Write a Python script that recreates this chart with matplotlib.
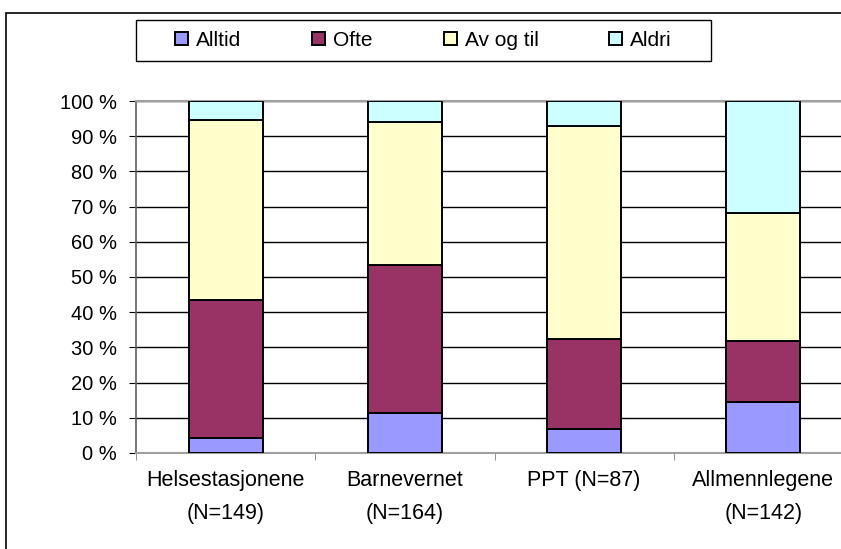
import matplotlib.pyplot as plt
from matplotlib.patches import Rectangle
import numpy as np

plt.rcParams['font.family'] = ['Liberation Sans', 'DejaVu Sans']

categories = ['Helsestasjonene\n(N=149)', 'Barnevernet\n(N=164)', 'PPT (N=87)', 'Allmennlegene\n(N=142)']
series = ['Alltid', 'Ofte', 'Av og til', 'Aldri']
alltid = [4.4, 11.4, 6.7, 14.6]
ofte = [39.2, 41.9, 25.7, 17.2]
av_og_til = [51.1, 40.7, 60.6, 36.3]
aldri = [5.3, 6.0, 7.0, 31.9]
colors = ['#9999ff', '#993366', '#ffffcc', '#ccffff']

W, H = 841, 549
fig = plt.figure(figsize=(W / 100, H / 100), dpi=100)
# outer chart frame (runs off the right and bottom edge)
fig.patches.append(Rectangle((6 / W, -0.1), 2, (H - 13) / H + 0.1,
                             transform=fig.transFigure, fill=False,
                             edgecolor='black', linewidth=1.2))
# legend box
fig.patches.append(Rectangle((136 / W, 1 - 61 / H), 575 / W, 41 / H,
                             transform=fig.transFigure, fill=False,
                             edgecolor='black', linewidth=1.0))

ax = fig.add_axes([136 / W, (H - 453) / H, 717 / W, 352 / H])

x = np.arange(len(categories))
bottom = np.zeros(len(categories))
for name, vals, col in zip(series, [alltid, ofte, av_og_til, aldri], colors):
    ax.bar(x, vals, bottom=bottom, width=0.413, color=col, edgecolor='black',
           linewidth=1.4, label=name, zorder=3)
    bottom += np.array(vals)

ax.set_xlim(-0.5, len(categories) - 0.5)
ax.set_ylim(0, 100)
ax.set_yticks(range(0, 101, 10))
ax.set_yticklabels([f'{v} %' for v in range(0, 101, 10)], fontsize=14.5)
ax.set_xticks(np.arange(len(categories) + 1) - 0.5, minor=True)
ax.set_xticks(x)
ax.set_xticklabels(categories, linespacing=1.8, fontsize=15.5)
ax.tick_params(axis='x', which='major', length=0, pad=12)
ax.tick_params(axis='x', which='minor', length=5, color='#808080')
ax.tick_params(axis='y', length=5, color='black', pad=8.5)

ax.yaxis.grid(True, color='black', linewidth=1.0, zorder=0)
ax.spines['right'].set_visible(False)
ax.spines['top'].set_color('#a0a0a0')
ax.spines['top'].set_linewidth(1.5)
ax.spines['bottom'].set_color('#a0a0a0')
ax.spines['bottom'].set_linewidth(1.5)
ax.spines['left'].set_color('#606060')
ax.spines['left'].set_linewidth(1.2)

fig.legend(loc='center', bbox_to_anchor=(423.5 / W, 1 - 40.5 / H),
           ncol=4, frameon=False, fontsize=15,
           handlelength=0.63, handleheight=0.63,
           handletextpad=0.38, columnspacing=3.4, borderpad=0.2)

fig.savefig('out.png', dpi=100)
